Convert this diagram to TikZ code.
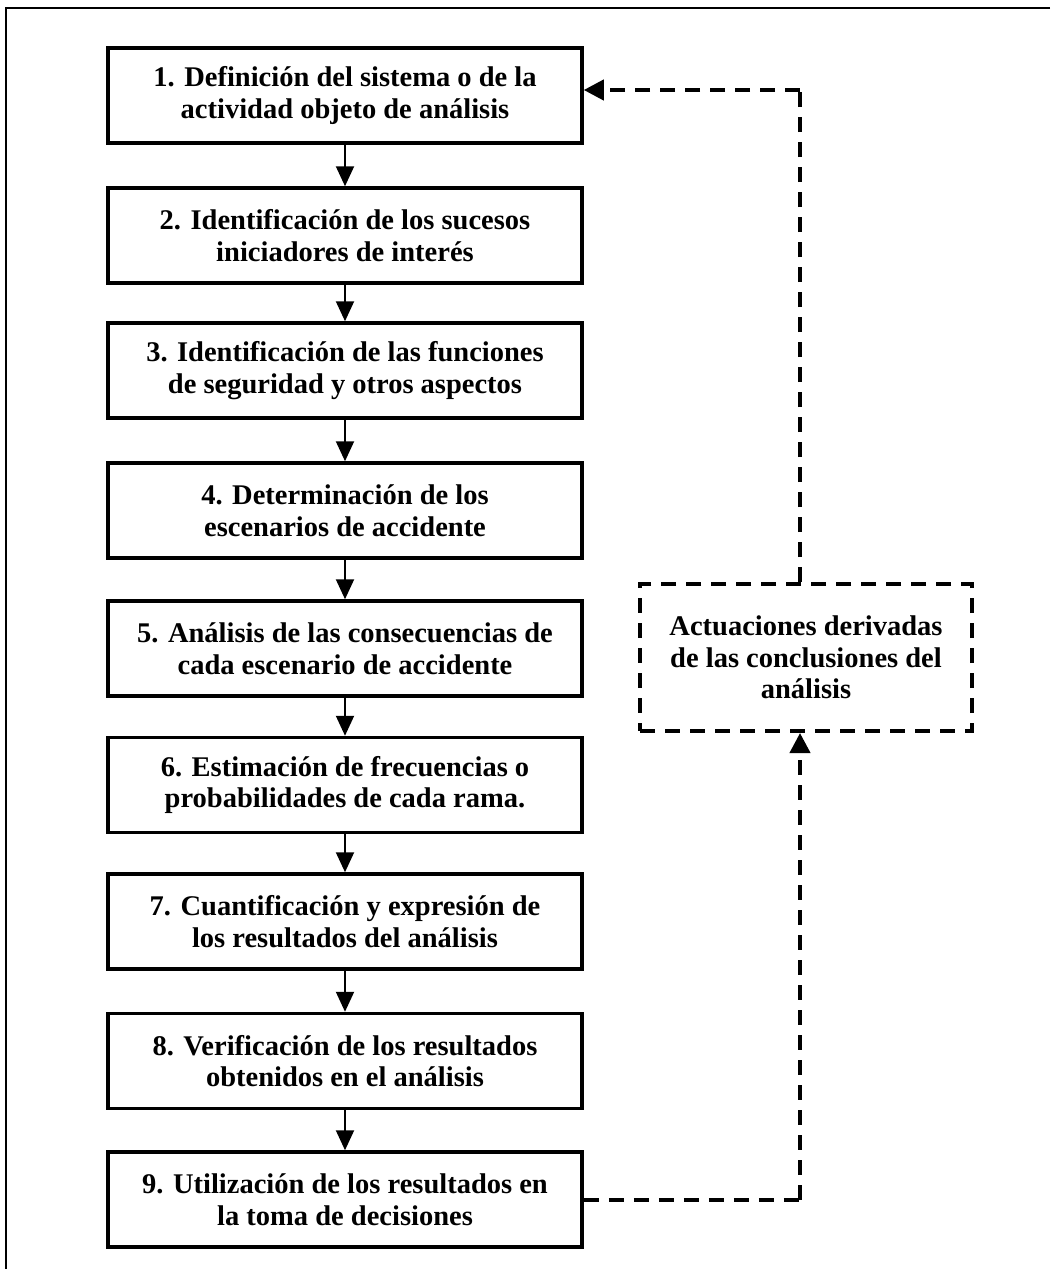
\documentclass[tikz,border=0pt]{standalone}
\usepackage{fontspec}
\setmainfont{Liberation Serif}
\usetikzlibrary{arrows.meta,calc}
\begin{document}
\begin{tikzpicture}[x=1pt,y=-1pt,
  stepbox/.style={draw,line width=3.5pt,minimum width=474pt,minimum height=95pt,
    align=center,inner sep=0pt,font=\fontsize{28.5}{31.5}\selectfont\bfseries},
  dashbox/.style={draw,line width=4pt,dash pattern=on 15pt off 10pt,minimum width=332pt,minimum height=147pt,
    align=center,inner sep=0pt,font=\fontsize{28.5}{31.5}\selectfont\bfseries},
  flow/.style={line width=2pt,-{Triangle[length=20pt,width=18pt]}},
  back/.style={line width=4pt,dash pattern=on 15pt off 10pt},
  backarr/.style={back,-{Triangle[length=20pt,width=20pt]}}]
\useasboundingbox (0,0) rectangle (1050,1269);
\draw[line width=1.8pt] (1050,8) -- (6,8) -- (6,1269);
\node[stepbox] (b1) at (345,95.5) {1. Definición del sistema o de la\\actividad objeto de análisis};
\node[stepbox] (b2) at (345,235.5) {2. Identificación de los sucesos\\iniciadores de interés};
\node[stepbox] (b3) at (345,370.5) {3. Identificación de las funciones\\de seguridad y otros aspectos};
\node[stepbox] (b4) at (345,510.5) {4. Determinación de los\\escenarios de accidente};
\node[stepbox] (b5) at (345,648.5) {5. Análisis de las consecuencias de\\cada escenario de accidente};
\node[stepbox] (b6) at (345,785) {6. Estimación de frecuencias o\\probabilidades de cada rama.};
\node[stepbox] (b7) at (345,921.5) {7. Cuantificación y expresión de\\los resultados del análisis};
\node[stepbox] (b8) at (345,1061) {8. Verificación de los resultados\\obtenidos en el análisis};
\node[stepbox] (b9) at (345,1199.5) {9. Utilización de los resultados en\\la toma de decisiones};
\node[dashbox] (da) at (806,657.5) {Actuaciones derivadas\\de las conclusiones del\\análisis};
\foreach \a/\b in {b1/b2,b2/b3,b3/b4,b4/b5,b5/b6,b6/b7,b7/b8,b8/b9}
  \draw[flow] (\a.south) -- (\b.north);
\coordinate (c1) at (800,1199.5);
\coordinate (c2) at (800,90);
\draw[back] (b9.east) -- (c1);
\draw[backarr] (c1) -- (c1 |- da.south);
\draw[back] (c2 |- da.north) -- (c2);
\draw[backarr] (c2) -- (b1.east |- c2);
\end{tikzpicture}
\end{document}
